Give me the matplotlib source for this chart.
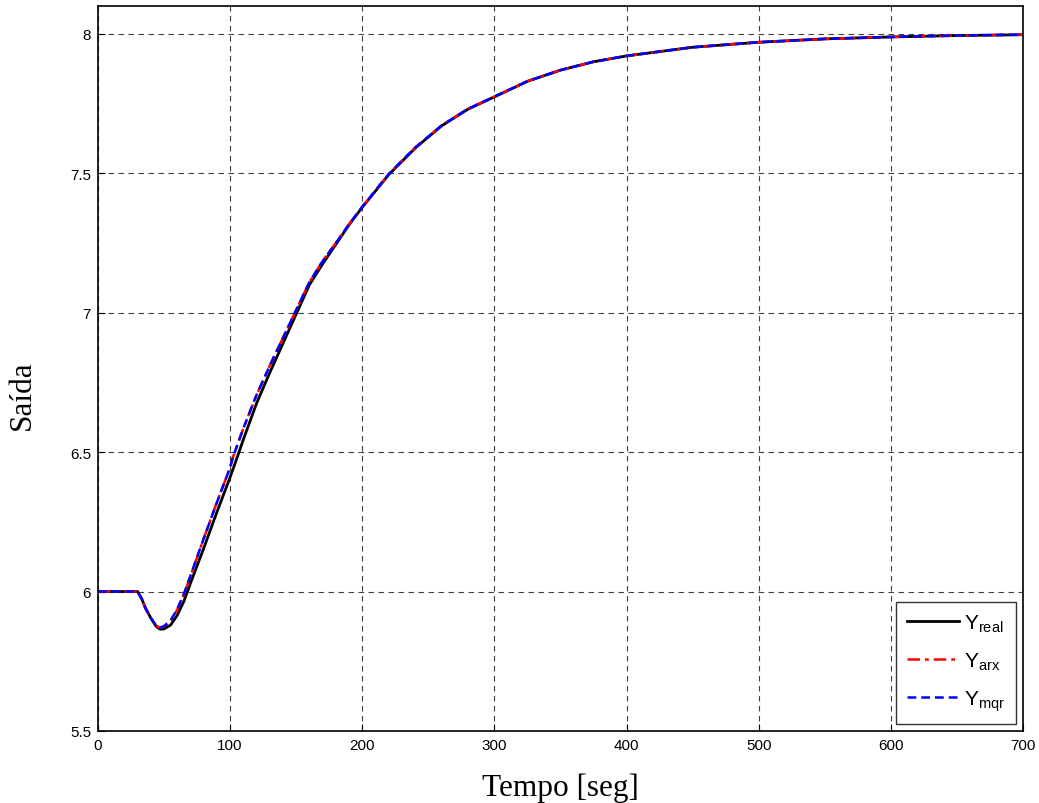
import matplotlib.pyplot as plt
import numpy as np

# tempo [s] e saidas
t_real = [0, 10, 20, 30, 33, 36, 40, 44, 47, 50, 55, 60, 65, 70, 80, 90, 100, 106, 110,
          120, 130, 140, 150, 160, 170, 180, 190, 200, 220, 240, 260, 280, 300, 325,
          350, 375, 400, 450, 500, 550, 600, 650, 700]
y_real = [6.0, 6.0, 6.0, 6.0, 5.975, 5.94, 5.905, 5.875, 5.865, 5.866, 5.88, 5.915,
          5.965, 6.03, 6.155, 6.285, 6.41, 6.49, 6.545, 6.675, 6.785, 6.89, 6.995, 7.10,
          7.175, 7.245, 7.315, 7.378, 7.495, 7.59, 7.67, 7.73, 7.774, 7.83, 7.87, 7.90,
          7.921, 7.952, 7.970, 7.982, 7.989, 7.994, 7.997]

t_mod = [0, 10, 20, 30, 33, 36, 40, 44, 47, 50, 55, 60, 65, 70, 80, 90, 100, 102, 110,
         120, 130, 140, 148, 160, 170, 180, 190, 200, 220, 240, 260, 280, 300, 325,
         350, 375, 400, 450, 500, 550, 600, 650, 700]
y_arx = [6.0, 6.0, 6.0, 6.0, 5.975, 5.94, 5.905, 5.878, 5.87, 5.875, 5.895, 5.935,
         5.99, 6.055, 6.19, 6.32, 6.445, 6.48, 6.585, 6.705, 6.81, 6.91, 6.99, 7.11,
         7.185, 7.25, 7.317, 7.38, 7.497, 7.592, 7.671, 7.731, 7.775, 7.83, 7.87, 7.90,
         7.921, 7.952, 7.970, 7.982, 7.989, 7.994, 7.997]
y_mqr = [6.0, 6.0, 6.0, 6.0, 5.975, 5.94, 5.905, 5.878, 5.871, 5.876, 5.897, 5.937,
         5.992, 6.057, 6.19, 6.32, 6.445, 6.48, 6.585, 6.705, 6.81, 6.91, 6.99, 7.11,
         7.185, 7.25, 7.317, 7.38, 7.497, 7.592, 7.671, 7.731, 7.775, 7.83, 7.87, 7.90,
         7.921, 7.952, 7.970, 7.982, 7.989, 7.994, 7.997]

plt.rcParams['font.family'] = ['Liberation Sans', 'DejaVu Sans']
plt.rcParams['mathtext.fontset'] = 'custom'
plt.rcParams['mathtext.rm'] = 'Liberation Sans'

fig = plt.figure(figsize=(10.39, 8.04), dpi=100)
ax = fig.add_axes([0.0943, 0.0896, 0.8903, 0.9017])

ax.plot(t_real, y_real, color='black', lw=2, label=r'Y$_{\mathrm{real}}$')
ax.plot(t_mod, y_arx, color='red', lw=1.8, linestyle=(0, (5, 2, 1.5, 2)),
        label=r'Y$_{\mathrm{arx}}$')
ax.plot(t_mod, y_mqr, color='blue', lw=1.8, linestyle=(0, (3.5, 2)),
        label=r'Y$_{\mathrm{mqr}}$')

ax.set_xlim(0, 700)
ax.set_ylim(5.5, 8.1)
ax.set_xticks(np.arange(0, 701, 100))
ax.set_yticks([5.5, 6, 6.5, 7, 7.5, 8])
ax.set_yticklabels(['5.5', '6', '6.5', '7', '7.5', '8'])
ax.tick_params(direction='in', labelsize=11, length=5, width=0.8, pad=5)
ax.grid(True, color='#404040', linestyle=(0, (5, 4)), lw=0.8)
for s in ax.spines.values():
    s.set_linewidth(1.2)

ax.set_xlabel('Tempo [seg]', fontsize=22.5, family='Liberation Serif', labelpad=15)
ax.set_ylabel('Saída', fontsize=22.5, family='Liberation Serif')
ax.yaxis.set_label_coords(-0.066, 0.465)

leg = ax.legend(loc='lower right', fontsize=15, frameon=True, fancybox=False,
                edgecolor='black', handlelength=2.5, handletextpad=0.25,
                borderaxespad=0.35, labelspacing=0.8, borderpad=0.5)
leg.get_frame().set_linewidth(1.0)

fig.savefig('out.png', dpi=100)
